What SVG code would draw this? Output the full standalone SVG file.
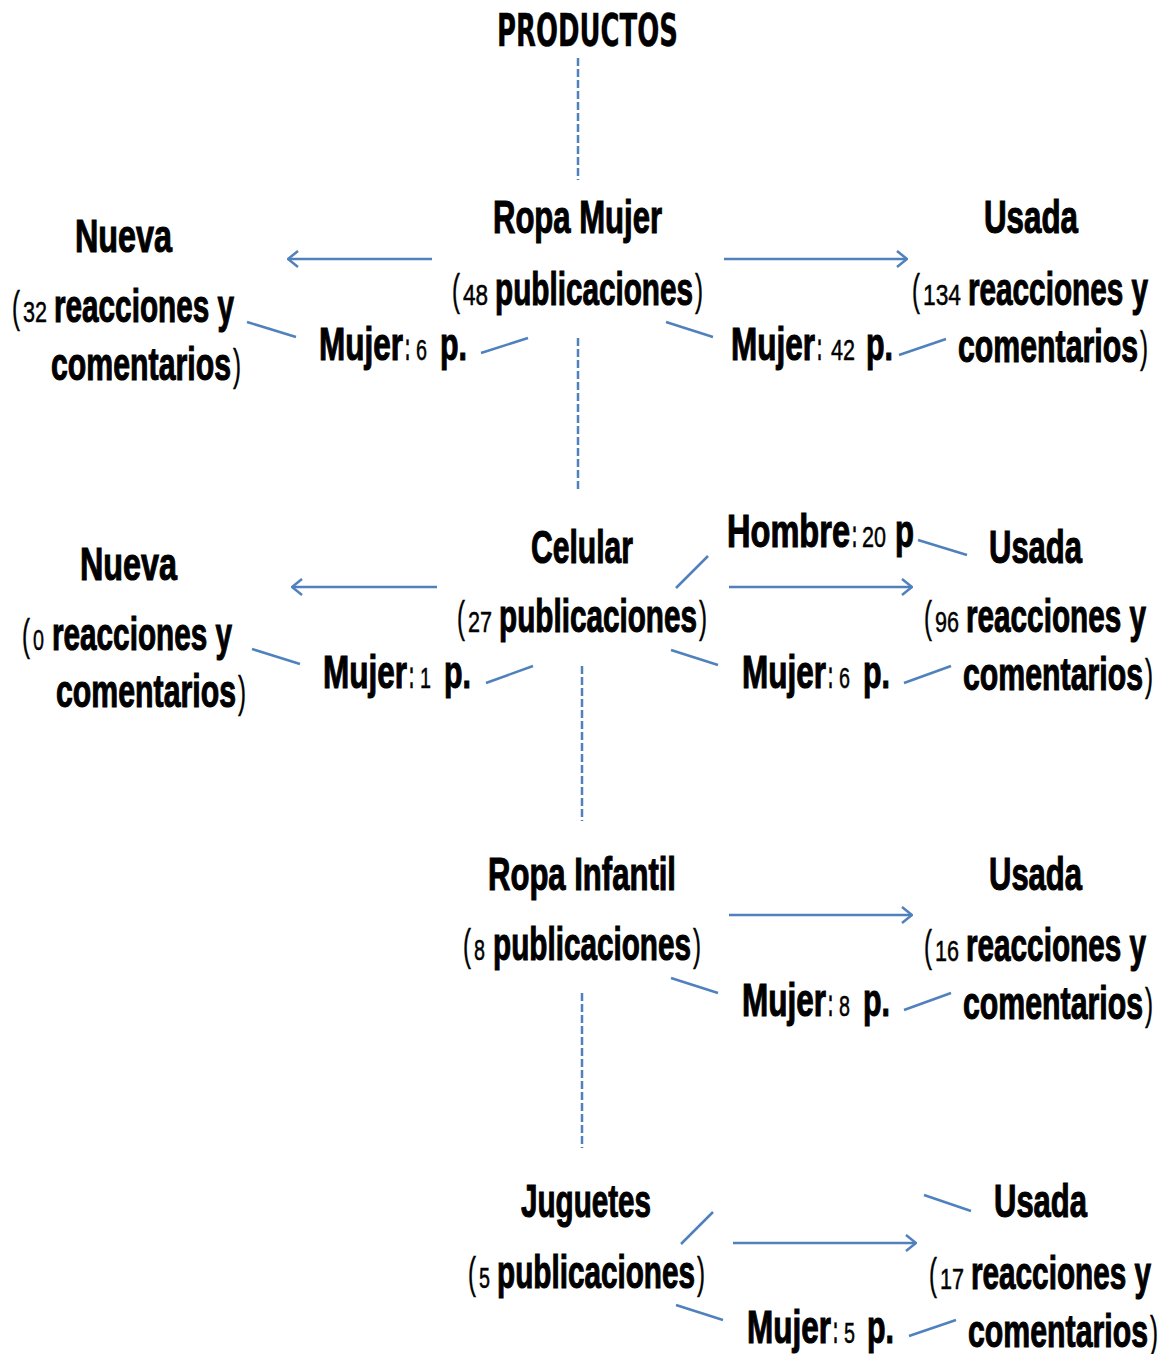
<svg xmlns="http://www.w3.org/2000/svg" width="1162" height="1354" viewBox="0 0 1162 1354">
<defs>
<style>
text{font-family:"Liberation Sans",Arial,sans-serif;font-weight:bold;font-size:46px;fill:#000;stroke:#000;stroke-width:1.1}
.t{font-family:"DejaVu Sans","Liberation Sans",sans-serif;font-size:45px;stroke-width:0.4}
.n{font-size:30px;font-weight:normal;stroke-width:0.5}
.k{font-size:40px;stroke-width:0.5}
.p{font-size:44px;font-weight:normal;stroke-width:0.5}
.c line{stroke:#4F81BD;stroke-width:2.5;fill:none}
.c .d{stroke-dasharray:8 3}
.c .a{marker-end:url(#ah)}
</style>
<marker id="ah" viewBox="0 0 12 18" refX="11" refY="9" markerWidth="12" markerHeight="18" orient="auto" markerUnits="userSpaceOnUse">
<path d="M1,1 L11,9 L1,17" fill="none" stroke="#4F81BD" stroke-width="2.5"/>
</marker>
</defs>
<rect width="1162" height="1354" fill="#fff"/>

<g id="connectors" class="c">
<line class="d" x1="578" y1="58" x2="578" y2="180"/>
<line class="d" x1="578" y1="338" x2="578" y2="492"/>
<line class="d" x1="582" y1="666" x2="582" y2="821"/>
<line class="d" x1="582" y1="993" x2="582" y2="1148"/>
<line class="a" x1="432" y1="259" x2="288" y2="259"/>
<line class="a" x1="724" y1="259" x2="907" y2="259"/>
<line x1="247" y1="322" x2="296" y2="337"/>
<line x1="481" y1="353" x2="528" y2="338"/>
<line x1="666" y1="322" x2="713" y2="337"/>
<line x1="899" y1="355" x2="946" y2="339"/>
<line class="a" x1="437" y1="587" x2="292" y2="587"/>
<line class="a" x1="729" y1="587" x2="912" y2="587"/>
<line x1="252" y1="649" x2="300" y2="664"/>
<line x1="486" y1="683" x2="533" y2="666"/>
<line x1="676" y1="588" x2="708" y2="556"/>
<line x1="918" y1="540" x2="967" y2="555"/>
<line x1="671" y1="650" x2="718" y2="665"/>
<line x1="904" y1="683" x2="951" y2="666"/>
<line class="a" x1="729" y1="915" x2="912" y2="915"/>
<line x1="671" y1="978" x2="718" y2="993"/>
<line x1="904" y1="1010" x2="951" y2="993"/>
<line class="a" x1="733" y1="1243" x2="916" y2="1243"/>
<line x1="681" y1="1244" x2="713" y2="1212"/>
<line x1="924" y1="1195" x2="971" y2="1211"/>
<line x1="676" y1="1305" x2="723" y2="1320"/>
<line x1="909" y1="1336" x2="956" y2="1320"/>
</g>

<g id="productos"><text class="t" transform="translate(497 46) scale(.58 1)" textLength="312" lengthAdjust="spacingAndGlyphs">PRODUCTOS</text></g>

<g id="ropa-mujer">
<text transform="translate(493 233) scale(.65 1)" textLength="260" lengthAdjust="spacingAndGlyphs">Ropa Mujer</text>
<text class="p" transform="translate(452 305) scale(.65 1)" textLength="12.3" lengthAdjust="spacingAndGlyphs">(</text>
<text class="n" transform="translate(463 305) scale(.65 1)" textLength="38.5" lengthAdjust="spacingAndGlyphs">48</text>
<text transform="translate(495 305) scale(.65 1)" textLength="304.6" lengthAdjust="spacingAndGlyphs">publicaciones</text>
<text class="p" transform="translate(695 305) scale(.65 1)" textLength="12.3" lengthAdjust="spacingAndGlyphs">)</text>
</g>
<g id="rm-nueva">
<text transform="translate(75 252) scale(.65 1)" textLength="149.2" lengthAdjust="spacingAndGlyphs">Nueva</text>
<text class="p" transform="translate(12 322) scale(.65 1)" textLength="12.3" lengthAdjust="spacingAndGlyphs">(</text>
<text class="n" transform="translate(23 322) scale(.65 1)" textLength="36.9" lengthAdjust="spacingAndGlyphs">32</text>
<text transform="translate(54 322) scale(.65 1)" textLength="276.9" lengthAdjust="spacingAndGlyphs">reacciones y</text>
<text transform="translate(51 380) scale(.65 1)" textLength="276.9" lengthAdjust="spacingAndGlyphs">comentarios</text>
<text class="p" transform="translate(233 380) scale(.65 1)" textLength="12.3" lengthAdjust="spacingAndGlyphs">)</text>
</g>
<g id="rm-nueva-mujer">
<text transform="translate(319 360) scale(.65 1)" textLength="129.2" lengthAdjust="spacingAndGlyphs">Mujer</text>
<text class="k" transform="translate(405 360) scale(.65 1)" textLength="7.7" lengthAdjust="spacingAndGlyphs">:</text>
<text class="n" transform="translate(416 360) scale(.65 1)" textLength="16.9" lengthAdjust="spacingAndGlyphs">6</text>
<text transform="translate(440 360) scale(.65 1)" textLength="41.5" lengthAdjust="spacingAndGlyphs">p.</text>
</g>
<g id="rm-usada-mujer">
<text transform="translate(731 360) scale(.65 1)" textLength="129.2" lengthAdjust="spacingAndGlyphs">Mujer</text>
<text class="k" transform="translate(817 360) scale(.65 1)" textLength="7.7" lengthAdjust="spacingAndGlyphs">:</text>
<text class="n" transform="translate(831 360) scale(.65 1)" textLength="36.9" lengthAdjust="spacingAndGlyphs">42</text>
<text transform="translate(866 360) scale(.65 1)" textLength="41.5" lengthAdjust="spacingAndGlyphs">p.</text>
</g>
<g id="rm-usada">
<text transform="translate(984 233) scale(.65 1)" textLength="144.6" lengthAdjust="spacingAndGlyphs">Usada</text>
<text class="p" transform="translate(912 305) scale(.65 1)" textLength="12.3" lengthAdjust="spacingAndGlyphs">(</text>
<text class="n" transform="translate(923 305) scale(.65 1)" textLength="58.5" lengthAdjust="spacingAndGlyphs">134</text>
<text transform="translate(968 305) scale(.65 1)" textLength="276.9" lengthAdjust="spacingAndGlyphs">reacciones y</text>
<text transform="translate(958 362) scale(.65 1)" textLength="276.9" lengthAdjust="spacingAndGlyphs">comentarios</text>
<text class="p" transform="translate(1140 362) scale(.65 1)" textLength="12.3" lengthAdjust="spacingAndGlyphs">)</text>
</g>

<g id="celular">
<text transform="translate(531 563) scale(.65 1)" textLength="156.9" lengthAdjust="spacingAndGlyphs">Celular</text>
<text class="p" transform="translate(457 632) scale(.65 1)" textLength="12.3" lengthAdjust="spacingAndGlyphs">(</text>
<text class="n" transform="translate(468 632) scale(.65 1)" textLength="36.9" lengthAdjust="spacingAndGlyphs">27</text>
<text transform="translate(499 632) scale(.65 1)" textLength="304.6" lengthAdjust="spacingAndGlyphs">publicaciones</text>
<text class="p" transform="translate(699 632) scale(.65 1)" textLength="12.3" lengthAdjust="spacingAndGlyphs">)</text>
</g>
<g id="ce-nueva">
<text transform="translate(80 580) scale(.65 1)" textLength="149.2" lengthAdjust="spacingAndGlyphs">Nueva</text>
<text class="p" transform="translate(22 650) scale(.65 1)" textLength="12.3" lengthAdjust="spacingAndGlyphs">(</text>
<text class="n" transform="translate(33 650) scale(.65 1)" textLength="16.9" lengthAdjust="spacingAndGlyphs">0</text>
<text transform="translate(52 650) scale(.65 1)" textLength="276.9" lengthAdjust="spacingAndGlyphs">reacciones y</text>
<text transform="translate(56 707) scale(.65 1)" textLength="276.9" lengthAdjust="spacingAndGlyphs">comentarios</text>
<text class="p" transform="translate(238 707) scale(.65 1)" textLength="12.3" lengthAdjust="spacingAndGlyphs">)</text>
</g>
<g id="ce-nueva-mujer">
<text transform="translate(323 688) scale(.65 1)" textLength="129.2" lengthAdjust="spacingAndGlyphs">Mujer</text>
<text class="k" transform="translate(409 688) scale(.65 1)" textLength="7.7" lengthAdjust="spacingAndGlyphs">:</text>
<text class="n" transform="translate(420 688) scale(.65 1)" textLength="16.9" lengthAdjust="spacingAndGlyphs">1</text>
<text transform="translate(444 688) scale(.65 1)" textLength="41.5" lengthAdjust="spacingAndGlyphs">p.</text>
</g>
<g id="ce-usada-hombre">
<text transform="translate(727 547) scale(.65 1)" textLength="189.2" lengthAdjust="spacingAndGlyphs">Hombre</text>
<text class="k" transform="translate(852 547) scale(.65 1)" textLength="7.7" lengthAdjust="spacingAndGlyphs">:</text>
<text class="n" transform="translate(862 547) scale(.65 1)" textLength="36.9" lengthAdjust="spacingAndGlyphs">20</text>
<text transform="translate(895 547) scale(.65 1)" textLength="29.2" lengthAdjust="spacingAndGlyphs">p</text>
</g>
<g id="ce-usada-mujer">
<text transform="translate(742 688) scale(.65 1)" textLength="129.2" lengthAdjust="spacingAndGlyphs">Mujer</text>
<text class="k" transform="translate(828 688) scale(.65 1)" textLength="7.7" lengthAdjust="spacingAndGlyphs">:</text>
<text class="n" transform="translate(839 688) scale(.65 1)" textLength="16.9" lengthAdjust="spacingAndGlyphs">6</text>
<text transform="translate(863 688) scale(.65 1)" textLength="41.5" lengthAdjust="spacingAndGlyphs">p.</text>
</g>
<g id="ce-usada">
<text transform="translate(989 563) scale(.65 1)" textLength="143.1" lengthAdjust="spacingAndGlyphs">Usada</text>
<text class="p" transform="translate(924 632) scale(.65 1)" textLength="12.3" lengthAdjust="spacingAndGlyphs">(</text>
<text class="n" transform="translate(935 632) scale(.65 1)" textLength="36.9" lengthAdjust="spacingAndGlyphs">96</text>
<text transform="translate(966 632) scale(.65 1)" textLength="276.9" lengthAdjust="spacingAndGlyphs">reacciones y</text>
<text transform="translate(963 690) scale(.65 1)" textLength="276.9" lengthAdjust="spacingAndGlyphs">comentarios</text>
<text class="p" transform="translate(1145 690) scale(.65 1)" textLength="12.3" lengthAdjust="spacingAndGlyphs">)</text>
</g>

<g id="ropa-infantil">
<text transform="translate(488 890) scale(.65 1)" textLength="289.2" lengthAdjust="spacingAndGlyphs">Ropa Infantil</text>
<text class="p" transform="translate(463 960) scale(.65 1)" textLength="12.3" lengthAdjust="spacingAndGlyphs">(</text>
<text class="n" transform="translate(474 960) scale(.65 1)" textLength="16.9" lengthAdjust="spacingAndGlyphs">8</text>
<text transform="translate(493 960) scale(.65 1)" textLength="304.6" lengthAdjust="spacingAndGlyphs">publicaciones</text>
<text class="p" transform="translate(693 960) scale(.65 1)" textLength="12.3" lengthAdjust="spacingAndGlyphs">)</text>
</g>
<g id="ri-usada-mujer">
<text transform="translate(742 1016) scale(.65 1)" textLength="129.2" lengthAdjust="spacingAndGlyphs">Mujer</text>
<text class="k" transform="translate(828 1016) scale(.65 1)" textLength="7.7" lengthAdjust="spacingAndGlyphs">:</text>
<text class="n" transform="translate(839 1016) scale(.65 1)" textLength="16.9" lengthAdjust="spacingAndGlyphs">8</text>
<text transform="translate(863 1016) scale(.65 1)" textLength="41.5" lengthAdjust="spacingAndGlyphs">p.</text>
</g>
<g id="ri-usada">
<text transform="translate(989 890) scale(.65 1)" textLength="143.1" lengthAdjust="spacingAndGlyphs">Usada</text>
<text class="p" transform="translate(924 961) scale(.65 1)" textLength="12.3" lengthAdjust="spacingAndGlyphs">(</text>
<text class="n" transform="translate(935 961) scale(.65 1)" textLength="36.9" lengthAdjust="spacingAndGlyphs">16</text>
<text transform="translate(966 961) scale(.65 1)" textLength="276.9" lengthAdjust="spacingAndGlyphs">reacciones y</text>
<text transform="translate(963 1019) scale(.65 1)" textLength="276.9" lengthAdjust="spacingAndGlyphs">comentarios</text>
<text class="p" transform="translate(1145 1019) scale(.65 1)" textLength="12.3" lengthAdjust="spacingAndGlyphs">)</text>
</g>

<g id="juguetes">
<text transform="translate(521 1217) scale(.65 1)" textLength="200" lengthAdjust="spacingAndGlyphs">Juguetes</text>
<text class="p" transform="translate(468 1288) scale(.65 1)" textLength="12.3" lengthAdjust="spacingAndGlyphs">(</text>
<text class="n" transform="translate(479 1288) scale(.65 1)" textLength="16.9" lengthAdjust="spacingAndGlyphs">5</text>
<text transform="translate(497 1288) scale(.65 1)" textLength="304.6" lengthAdjust="spacingAndGlyphs">publicaciones</text>
<text class="p" transform="translate(697 1288) scale(.65 1)" textLength="12.3" lengthAdjust="spacingAndGlyphs">)</text>
</g>
<g id="ju-usada-mujer">
<text transform="translate(747 1343) scale(.65 1)" textLength="129.2" lengthAdjust="spacingAndGlyphs">Mujer</text>
<text class="k" transform="translate(833 1343) scale(.65 1)" textLength="7.7" lengthAdjust="spacingAndGlyphs">:</text>
<text class="n" transform="translate(844 1343) scale(.65 1)" textLength="16.9" lengthAdjust="spacingAndGlyphs">5</text>
<text transform="translate(867 1343) scale(.65 1)" textLength="41.5" lengthAdjust="spacingAndGlyphs">p.</text>
</g>
<g id="ju-usada">
<text transform="translate(994 1217) scale(.65 1)" textLength="143.1" lengthAdjust="spacingAndGlyphs">Usada</text>
<text class="p" transform="translate(929 1289) scale(.65 1)" textLength="12.3" lengthAdjust="spacingAndGlyphs">(</text>
<text class="n" transform="translate(940 1289) scale(.65 1)" textLength="36.9" lengthAdjust="spacingAndGlyphs">17</text>
<text transform="translate(971 1289) scale(.65 1)" textLength="276.9" lengthAdjust="spacingAndGlyphs">reacciones y</text>
<text transform="translate(968 1347) scale(.65 1)" textLength="276.9" lengthAdjust="spacingAndGlyphs">comentarios</text>
<text class="p" transform="translate(1150 1347) scale(.65 1)" textLength="12.3" lengthAdjust="spacingAndGlyphs">)</text>
</g>
</svg>
